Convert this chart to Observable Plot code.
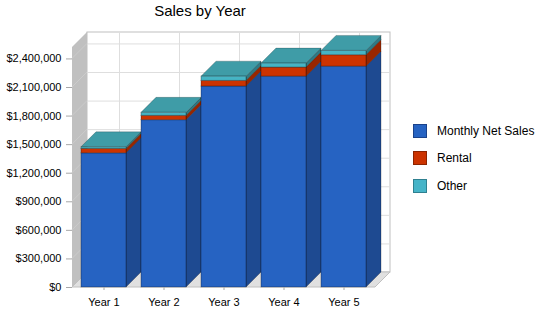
<!DOCTYPE html>
<html><head><meta charset="utf-8">
<script src="https://cdn.jsdelivr.net/npm/d3@7"></script>
<script src="https://cdn.jsdelivr.net/npm/@observablehq/plot@0.6"></script>
<style>
body{margin:0;background:#fff;font-family:"Liberation Sans",Arial,sans-serif;}
#wrap{position:relative;width:550px;height:318px;overflow:hidden}
#title{height:24px;width:400px;text-align:center;font-size:15px;line-height:21px;color:#000}
.row{position:absolute;left:413px;display:flex;align-items:center;height:20px;font-size:12px;color:#000;white-space:nowrap}
.sw{width:12px;height:12px;border:1px solid;margin-right:10px;box-sizing:content-box}
</style></head><body>
<div id="wrap"><div id="title">Sales by Year</div><div id="chart"></div></div>
<script>
const years = ["Year 1","Year 2","Year 3","Year 4","Year 5"];
const seriesNames = ["Monthly Net Sales","Rental","Other"];
const monthlyNetSales = [1409000,1757000,2110000,2214000,2319000];
const rental = [46000,45000,59000,95000,120000];
const other = [17000,32000,45000,42000,45000];
const yTicks = [0,300000,600000,900000,1200000,1500000,1800000,2100000,2400000];
const yMax = 2520000;

const frontColors = ["#2663C2","#CC3300","#46B4C4"];
const sideColors  = ["#1E4A91","#992600","#2E7B86"];
const topColor    = "#3F9CA7";
const legendColors = ["#2663C2","#CC3300","#46B4C8"];
const legendBorders = ["#1A428A","#8C2400","#2F8090"];
const depth = 15;

const seriesValues = [monthlyNetSales, rental, other];
const table = years.flatMap((yr, i) => seriesNames.map((s, j) => ({year: yr, series: s, value: seriesValues[j][i]})));

function poly(g, pts, fill, stroke) {
  const p = g.append("polygon").attr("points", pts.map(p => p.join(",")).join(" ")).attr("fill", fill);
  if (stroke) p.attr("stroke", stroke).attr("stroke-width", 1).attr("stroke-linejoin", "round");
  return p;
}

function walls(index, {x, y}) {
  const D = depth;
  const g = d3.create("svg:g");
  const [x0, x1] = x.range();
  const [yB, yT] = y.range();
  // back wall
  g.append("rect").attr("x", x0 + D).attr("y", yT - D).attr("width", x1 - x0).attr("height", yB - yT)
    .attr("fill", "#fff").attr("stroke", "#c0c0c0");
  // grid on back wall
  for (const t of yTicks) {
    if (t === 0) continue;
    g.append("line").attr("x1", x0 + D).attr("x2", x1 + D).attr("y1", y(t) - D + 0.5).attr("y2", y(t) - D + 0.5).attr("stroke", "#dedede");
  }
  const bw = x.bandwidth();
  for (const yr of years) {
    const cx = Math.round(x(yr) + bw / 2 + D) + 0.5;
    g.append("line").attr("x1", cx).attr("x2", cx).attr("y1", yT - D).attr("y2", yB - D).attr("stroke", "#dedede");
  }
  // left wall
  poly(g, [[x0, yB], [x0, yT], [x0 + D, yT - D], [x0 + D, yB - D]], "#c0c0c0");
  for (const t of yTicks) {
    if (t === 0) continue;
    g.append("line").attr("x1", x0).attr("x2", x0 + D).attr("y1", y(t)).attr("y2", y(t) - D).attr("stroke", "#cbcbcb");
  }
  // floor
  poly(g, [[x0, yB], [x1, yB], [x1 + D, yB - D], [x0 + D, yB - D]], "#e0e0e0", "#c0c0c0");
  return g.node();
}

function bars3d(index, {x, y}) {
  const D = depth;
  const g = d3.create("svg:g");
  const bw = x.bandwidth();
  years.forEach((yr, i) => {
    const xl = x(yr), xr = xl + bw;
    let base = 0;
    seriesNames.forEach((s, j) => {
      const top = base + seriesValues[j][i];
      const p1 = y(base), p2 = y(top);
      poly(g, [[xr, p1], [xr, p2], [xr + D, p2 - D], [xr + D, p1 - D]], sideColors[j], "rgba(0,0,0,0.25)");
      base = top;
    });
    const pt = y(base);
    poly(g, [[xl, pt], [xr, pt], [xr + D, pt - D], [xl + D, pt - D]], topColor, "rgba(0,0,0,0.2)");
  });
  return g.node();
}

const chart = Plot.plot({
  width: 550,
  height: 294,
  marginLeft: 72,
  marginRight: 175,
  marginTop: 23,
  marginBottom: 31,
  style: {fontFamily: "Liberation Sans, Arial, sans-serif", fontSize: "11px", background: "transparent", color: "#000"},
  x: {domain: years, paddingInner: 0.25, paddingOuter: 0.133},
  y: {domain: [0, yMax]},
  color: {domain: seriesNames, range: frontColors},
  marks: [
    walls,
    bars3d,
    Plot.barY(table, Plot.stackY({x: "year", y: "value", fill: "series", stroke: "#000", strokeOpacity: 0.3, strokeWidth: 1})),
    Plot.axisY({ticks: yTicks, tickFormat: d => "$" + d3.format(",")(d), tickSize: 6, tickPadding: 5, stroke: "#a8a8a8", fill: "#000", label: null}),
    Plot.axisX({tickSize: 3, tickPadding: 8, stroke: "#a8a8a8", fill: "#000", label: null})
  ]
});
document.getElementById("chart").appendChild(chart);

const wrap = document.getElementById("wrap");
const legendCenters = [131, 158, 186];
seriesNames.forEach((s, j) => {
  const row = document.createElement("div");
  row.className = "row";
  row.style.top = (legendCenters[j] - 10) + "px";
  const sw = document.createElement("span");
  sw.className = "sw";
  sw.style.background = legendColors[j];
  sw.style.borderColor = legendBorders[j];
  const tx = document.createElement("span");
  tx.textContent = s;
  row.appendChild(sw); row.appendChild(tx);
  wrap.appendChild(row);
});
</script>
</body></html>
